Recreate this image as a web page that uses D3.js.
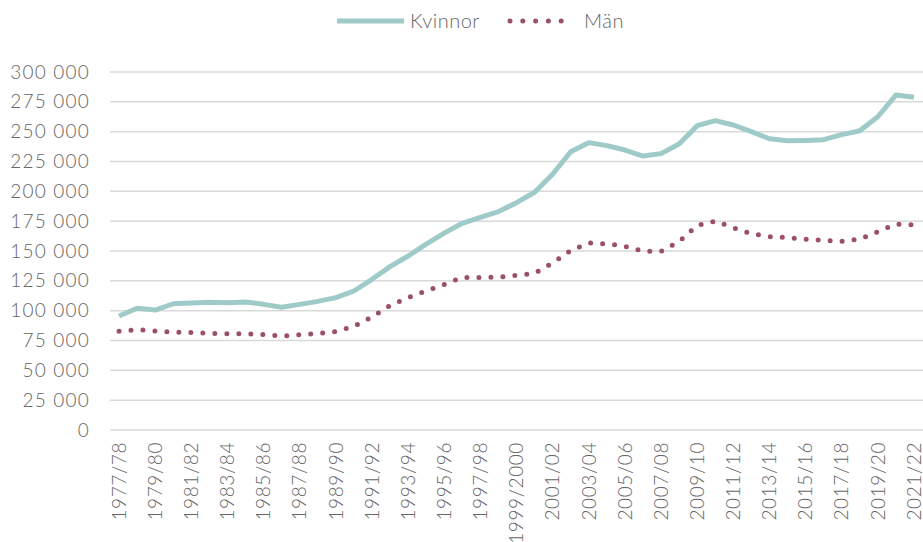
<!DOCTYPE html>
<html><head><meta charset="utf-8">
<script src="https://cdn.jsdelivr.net/npm/d3@7"></script>
<style>
html,body{margin:0;padding:0;background:#fff;}
svg text{font-family:Lato,"Noto Sans",sans-serif;font-weight:300;fill:#666;}
</style></head>
<body><svg id="c" width="923" height="542"></svg>
<script>
const years = [];
for (let yr = 1977; yr <= 2021; yr++) {
  const n = yr + 1;
  years.push(yr === 1999 ? "1999/2000" : yr + "/" + String(n).slice(2));
}
const kvinnor = [95500,102000,100500,105800,106400,107000,106700,107300,105300,102800,
  105300,107800,110900,116500,126300,136900,145800,155800,165000,173200,
  178200,183000,190500,199200,214300,233200,240800,238300,234600,229600,
  231600,239700,255000,259200,255600,250000,244100,242400,242700,243300,
  247500,250800,262500,280700,278800];
const man = [82700,84100,83000,82100,81600,81000,80700,80600,80000,78800,
  79800,80900,82500,86800,94700,104300,111000,116500,121900,127900,
  127700,128200,129500,131400,140000,150400,156700,156000,154000,149800,
  149800,158000,171400,175100,169500,164500,162000,161300,159900,158900,
  158100,160000,166200,172600,171800];
const yTicks = [0,25000,50000,75000,100000,125000,150000,175000,200000,225000,250000,275000,300000];
const seriesNames = ["Kvinnor","Män"];

(function(){
const svg = d3.select("#c");
const pl = 110, pr = 923, pt = 72, pb = 430;
const x = d3.scalePoint().domain(years).range([pl, pr]).padding(0.5);
const y = d3.scaleLinear().domain([0,300000]).range([pb, pt]);
const fmt = v => d3.format(",")(v).replace(/,/g, " ");

svg.append("g").selectAll("line").data(yTicks).join("line")
  .attr("x1", pl).attr("x2", pr)
  .attr("y1", d => y(d)).attr("y2", d => y(d))
  .attr("stroke", "#d9d9d9").attr("stroke-width", 1.5);

const ya = svg.append("g").attr("transform", `translate(${pl},0)`)
  .call(d3.axisLeft(y).tickValues(yTicks).tickSize(0).tickPadding(20).tickFormat(fmt));
ya.select(".domain").remove();
ya.selectAll("text").style("font-size","19px").style("letter-spacing","1.2px");

const xa = svg.append("g").attr("transform", `translate(0,${pb})`)
  .call(d3.axisBottom(x).tickValues(years.filter((d,i)=>i%2===0)).tickSize(0));
xa.select(".domain").remove();
xa.selectAll("text").style("font-size","19px").style("letter-spacing","0.6px")
  .attr("text-anchor","end").attr("dy","0.33em")
  .attr("transform","translate(0,12) rotate(-90)").attr("x",0).attr("y",0);

const line = d3.line().x((d,i)=>x(years[i])).y(d=>y(d));
svg.append("path").datum(kvinnor).attr("d", line).attr("fill","none")
  .attr("stroke","#9ecbc8").attr("stroke-width",5).attr("stroke-linejoin","round");
svg.append("path").datum(man).attr("d", line).attr("fill","none")
  .attr("stroke","#9b5069").attr("stroke-width",5).attr("stroke-linecap","round")
  .attr("stroke-dasharray","0,12");

const lg = svg.append("g");
lg.append("line").attr("x1",337).attr("x2",404).attr("y1",21).attr("y2",21)
  .attr("stroke","#9ecbc8").attr("stroke-width",5);
lg.append("text").attr("x",410).attr("y",21).attr("dy","0.35em").style("font-size","20px").style("letter-spacing","0.5px").text(seriesNames[0]);
lg.append("line").attr("x1",510).attr("x2",574).attr("y1",21).attr("y2",21)
  .attr("stroke","#9b5069").attr("stroke-width",5).attr("stroke-linecap","round").attr("stroke-dasharray","0,12.8");
lg.append("text").attr("x",584).attr("y",21).attr("dy","0.35em").style("font-size","20px").style("letter-spacing","0.5px").text(seriesNames[1]);
})();
</script></body></html>
